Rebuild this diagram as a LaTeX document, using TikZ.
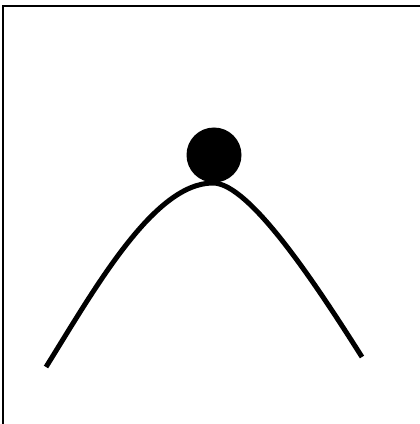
\documentclass[tikz,border=0pt]{standalone}
\usetikzlibrary{positioning}

\begin{document}
\begin{tikzpicture}[
    frameLine/.style={draw=black, line width=1.1pt, line cap=rect},
    hillCurve/.style={draw=black, line width=2.85pt},
    ballMark/.style={circle, fill=black, inner sep=0pt, minimum size=1.1cm},
]
\useasboundingbox (0, 0) rectangle (8.4, 8.48);
\begin{scope}
\clip (0, 0) rectangle (8.4, 8.48);
\draw[frameLine] (0.06, -0.2) -- (0.06, 8.36) -- (8.6, 8.36);
\end{scope}
\coordinate (hillLeft) at (0.92, 1.14);
\coordinate (hillTop) at (4.26, 4.82);
\coordinate (hillRight) at (7.24, 1.34);
\draw[hillCurve] (hillLeft) .. controls (1.91, 2.73) and (3.08, 4.82) .. (hillTop)
                 .. controls (4.98, 4.82) and (6.29, 2.84) .. (hillRight);
\node[ballMark] (ball) at (4.28, 5.38) {};
\end{tikzpicture}
\end{document}
